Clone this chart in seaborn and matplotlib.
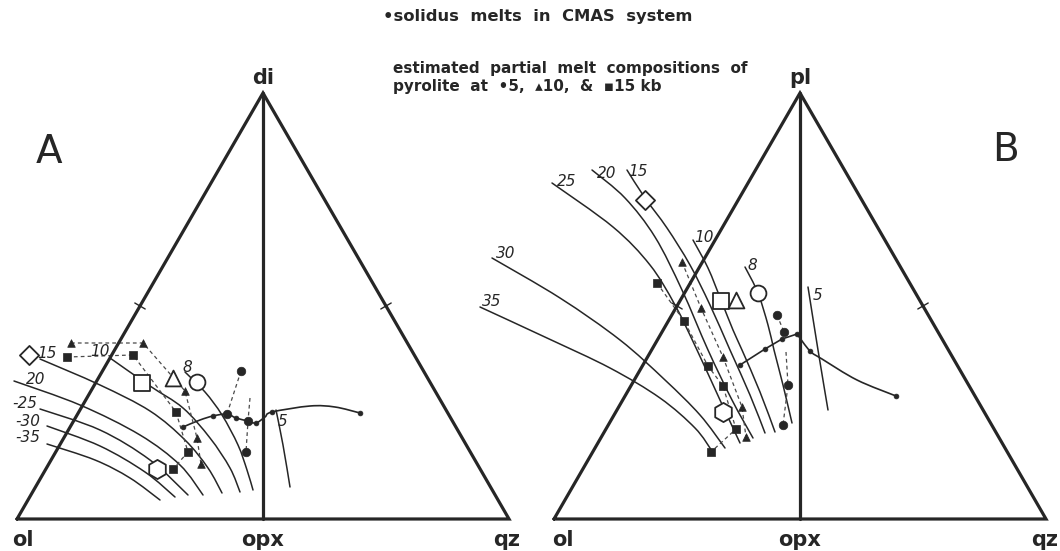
import matplotlib
matplotlib.use("Agg")
import matplotlib.pyplot as plt
from matplotlib.path import Path
from matplotlib.patches import PathPatch
import numpy as np
import pandas as pd
import seaborn as sns

sns.set_style("white")
plt.rcParams["font.family"] = ["DejaVu Sans"]

INK = "#262626"
GREY = "#4a4a4a"

# ---------------- triangle frames (plot units, y grows downward) -------------
TRI_A = [(17, 519), (263, 93), (509, 519)]      # ol, di, qz
TRI_B = [(554, 519), (800, 93), (1046, 519)]    # ol, pl, qz

# ---------------- diagram A : ol - di - qz -----------------------------------
# isobars (kb) of the olivine-saturated cotectic
A_ISO_8 = [(185, 372), (205, 392), (222, 415), (238, 445), (247, 470), (253, 490)]
A_ISO_10 = [(110, 358), (150, 386), (183, 408), (210, 438), (230, 468), (240, 492)]
A_ISO_15 = [(40, 359), (100, 385), (150, 411), (185, 440), (208, 468), (222, 493)]
A_ISO_20 = [(14, 381), (80, 405), (140, 435), (180, 465), (203, 495)]
A_ISO_25 = [(40, 409), (100, 430), (150, 460), (188, 495)]
A_ISO_30 = [(47, 426), (100, 446), (145, 472), (175, 497)]
A_ISO_35 = [(47, 444), (95, 460), (130, 478), (160, 500)]
A_ISO_5 = [(276, 410), (283, 445), (290, 487)]

# solidus melts in CMAS
A_SOLIDUS = [(183, 427), (200, 420), (213, 416), (227, 414), (236, 418), (248, 421),
             (256, 423), (265, 417), (272, 412), (310, 406), (335, 407), (360, 413)]
A_SOLIDUS_DOTS = [(183, 427), (213, 416), (236, 418), (256, 423), (272, 412), (360, 413)]

# estimated partial melts of pyrolite
A_MELT_5KB = [(241, 371), (227, 414), (248, 421), (246, 452)]
A_MELT_10KB = [(71, 343), (143, 343), (185, 391), (197, 438), (201, 464)]
A_MELT_15KB = [(67, 357), (133, 355), (176, 412), (188, 452), (173, 469)]

# open symbols (natural compositions)
A_DIAMOND = [(29, 355)]
A_SQUARE = [(142, 383)]
A_TRIANGLE = [(173, 378)]
A_CIRCLE = [(197, 382)]
A_HEXAGON = [(157, 469)]

# ---------------- diagram B : ol - pl - qz -----------------------------------
B_ISO_35 = [(480, 307), (547, 338), (610, 368), (660, 398), (695, 428), (712, 451)]
B_ISO_30 = [(492, 258), (560, 298), (620, 340), (665, 380), (700, 415), (725, 448)]
B_ISO_25 = [(552, 183), (613, 227), (650, 265), (675, 305), (697, 350), (720, 400), (740, 443)]
B_ISO_20 = [(592, 170), (625, 198), (655, 237), (682, 290), (708, 350), (732, 400), (753, 438)]
B_ISO_15 = [(627, 170), (645, 198), (667, 228), (690, 265), (710, 305), (730, 350),
            (750, 395), (765, 433)]
B_ISO_10 = [(693, 240), (708, 268), (721, 300), (733, 330), (742, 350), (760, 392), (775, 432)]
B_ISO_8 = [(745, 267), (758, 293), (768, 325), (774, 350), (783, 385), (792, 423)]
B_ISO_5 = [(808, 287), (818, 350), (828, 410)]

B_SOLIDUS_LOW = [(740, 365), (765, 349), (782, 339), (797, 334)]
B_SOLIDUS_HIGH = [(797, 334), (810, 351), (822, 359), (857, 380), (896, 396)]
B_SOLIDUS_DOTS = [(740, 365), (765, 349), (782, 339), (797, 334), (810, 351), (896, 396)]

B_MELT_5KB = [(777, 315), (784, 332), (788, 385), (783, 425)]
B_MELT_10KB = [(682, 262), (701, 308), (723, 357), (742, 407), (746, 437)]
B_MELT_15KB = [(657, 283), (684, 321), (708, 366), (723, 386), (736, 429), (711, 452)]

B_DIAMOND = [(645, 200)]
B_SQUARE = [(721, 301)]
B_TRIANGLE = [(736, 300)]
B_CIRCLE = [(758, 293)]
B_HEXAGON = [(723, 412)]

# isobar labels: (text, anchor)
A_ISO_LABELS = [("15", (47, 353)), ("10", (100, 352)), ("8", (187, 367)), ("20", (36, 380)),
                ("-25", (25, 403)), ("-30", (28, 421)), ("-35", (28, 438)), ("5", (283, 421))]
B_ISO_LABELS = [("25", (567, 182)), ("20", (607, 174)), ("15", (638, 172)), ("10", (704, 237)),
                ("8", (752, 266)), ("30", (506, 253)), ("35", (492, 301)), ("5", (818, 295))]


def frame(ax, tri):
    xs = [p[0] for p in tri] + [tri[0][0]]
    ys = [p[1] for p in tri] + [tri[0][1]]
    df = pd.DataFrame({"x": xs, "y": ys})
    sns.lineplot(data=df, x="x", y="y", sort=False, estimator=None, ax=ax,
                 color=INK, lw=2.3, solid_joinstyle="miter", zorder=3)
    ol, top, qz = tri
    base_mid = ((ol[0] + qz[0]) / 2, ol[1])
    df = pd.DataFrame({"x": [top[0], base_mid[0]], "y": [top[1], base_mid[1]]})
    sns.lineplot(data=df, x="x", y="y", sort=False, estimator=None, ax=ax,
                 color=INK, lw=2.3, zorder=3)
    # midpoint ticks on the two sloping sides
    for a, b in ((ol, top), (top, qz)):
        m = np.array([(a[0] + b[0]) / 2, (a[1] + b[1]) / 2])
        d = np.array([b[0] - a[0], b[1] - a[1]], float)
        d /= np.hypot(*d)
        n = np.array([-d[1], d[0]])
        seg = np.array([m - 6 * n, m + 6 * n])
        ax.plot(seg[:, 0], seg[:, 1], color=INK, lw=1.0, zorder=3)


def smooth(ax, pts, lw=1.1, color=INK):
    """Draw a smooth hand-drawn style curve through the given points."""
    p = np.asarray(pts, float)
    verts, codes = [p[0]], [Path.MOVETO]
    for i in range(len(p) - 1):
        p0 = p[i - 1] if i > 0 else p[i]
        p1, p2 = p[i], p[i + 1]
        p3 = p[i + 2] if i + 2 < len(p) else p[i + 1]
        verts += [p1 + (p2 - p0) / 6, p2 - (p3 - p1) / 6, p2]
        codes += [Path.CURVE4] * 3
    ax.add_patch(PathPatch(Path(verts, codes), fill=False, ec=color, lw=lw,
                           capstyle="round", zorder=2))


def curve(ax, pts, lw=1.1, color=INK, ls="-"):
    df = pd.DataFrame(pts, columns=["x", "y"])
    sns.lineplot(data=df, x="x", y="y", sort=False, estimator=None, ax=ax,
                 color=color, lw=lw, linestyle=ls, zorder=2)


def points(ax, pts, marker, size, filled, lw=1.3):
    df = pd.DataFrame(pts, columns=["x", "y"])
    sns.scatterplot(data=df, x="x", y="y", marker=marker, s=size, ax=ax,
                    color=INK if filled else "white", edgecolor=INK,
                    linewidth=lw if not filled else 0.5, zorder=6, legend=False)


fig = plt.figure(figsize=(10.6, 5.51), dpi=100)
ax = fig.add_axes([0, 0, 1, 1])

for tri in (TRI_A, TRI_B):
    frame(ax, tri)

for iso in (A_ISO_8, A_ISO_10, A_ISO_15, A_ISO_20, A_ISO_25, A_ISO_30, A_ISO_35, A_ISO_5,
            B_ISO_35, B_ISO_30, B_ISO_25, B_ISO_20, B_ISO_15, B_ISO_10, B_ISO_8, B_ISO_5):
    smooth(ax, iso)

smooth(ax, A_SOLIDUS, lw=1.2)
curve(ax, B_SOLIDUS_LOW, lw=1.2)
smooth(ax, B_SOLIDUS_HIGH, lw=1.2)
for dots in (A_SOLIDUS_DOTS, B_SOLIDUS_DOTS):
    points(ax, dots, "o", 12, True)

dash = (0, (3, 2.5))
# 5 kb melts: two dashed strands
curve(ax, A_MELT_5KB[:2], lw=0.9, color=GREY, ls=dash)
curve(ax, [(250, 398)] + A_MELT_5KB[2:], lw=0.9, color=GREY, ls=dash)
curve(ax, B_MELT_5KB[:2], lw=0.9, color=GREY, ls=dash)
curve(ax, [(786, 352)] + B_MELT_5KB[2:], lw=0.9, color=GREY, ls=dash)
for melt in (A_MELT_10KB, A_MELT_15KB, B_MELT_10KB, B_MELT_15KB):
    curve(ax, melt, lw=0.9, color=GREY, ls=dash)

for circ in (A_MELT_5KB, B_MELT_5KB):
    points(ax, circ, "o", 38, True)
for tri in (A_MELT_10KB, B_MELT_10KB):
    points(ax, tri, "^", 30, True)
for sq in (A_MELT_15KB, B_MELT_15KB):
    points(ax, sq, "s", 28, True)

points(ax, A_DIAMOND + B_DIAMOND, "D", 95, False)
points(ax, A_SQUARE + B_SQUARE, "s", 120, False)
points(ax, A_TRIANGLE + B_TRIANGLE, "^", 130, False)
points(ax, A_CIRCLE + B_CIRCLE, "o", 130, False)
points(ax, A_HEXAGON + B_HEXAGON, "h", 190, False)

for text, (x, y) in A_ISO_LABELS + B_ISO_LABELS:
    ax.text(x, y, text, fontsize=11, style="italic", color=INK, ha="center", va="center",
            zorder=7)

# corner labels
lab = dict(fontsize=15, fontweight="bold", color=INK, va="center", zorder=7)
ax.text(263, 78, "di", ha="center", **lab)
ax.text(800, 78, "pl", ha="center", **lab)
ax.text(12, 540, "ol", ha="left", **lab)
ax.text(263, 540, "opx", ha="center", **lab)
ax.text(520, 540, "qz", ha="right", **lab)
ax.text(552, 540, "ol", ha="left", **lab)
ax.text(800, 540, "opx", ha="center", **lab)
ax.text(1058, 540, "qz", ha="right", **lab)

ax.text(49, 152, "A", fontsize=28, color=INK, ha="center", va="center")
ax.text(1005, 150, "B", fontsize=28, color=INK, ha="center", va="center")

head = dict(fontweight="bold", color=INK, va="center", ha="left")
ax.text(383, 17, "\u2022solidus  melts  in  CMAS  system", fontsize=11.8, **head)
ax.text(393, 69, "estimated  partial  melt  compositions  of", fontsize=11, **head)
ax.text(393, 87, "pyrolite  at  \u20225,  \u25b410,  &  \u25aa15 kb", fontsize=11, **head)

ax.set_xlim(0, 1060)
ax.set_ylim(551, 0)
ax.set_axis_off()
fig.savefig("out.png", dpi=100, facecolor="white")
